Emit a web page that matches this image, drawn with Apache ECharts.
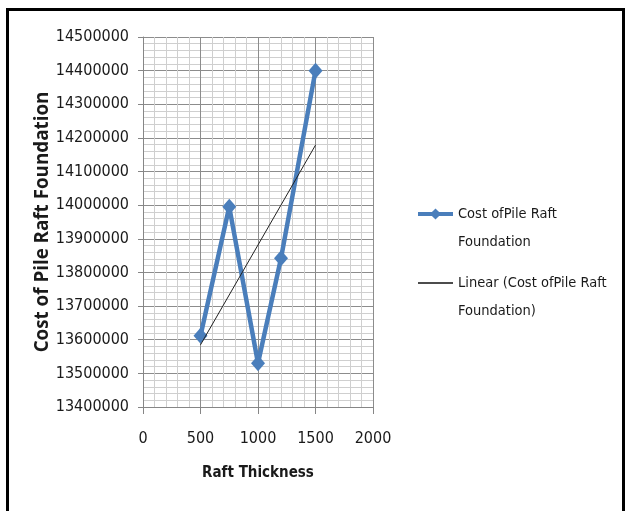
<!DOCTYPE html>
<html>
<head>
<meta charset="utf-8">
<script src="https://cdn.jsdelivr.net/npm/echarts@6/dist/echarts.min.js"></script>
<style>
  html, body { margin: 0; padding: 0; background: #fff; }
  #chart { width: 627px; height: 511px; }
</style>
</head>
<body>
<div id="chart"></div>
<script>
// Raft thickness (mm) and the matching cost of the pile raft foundation
const thickness = [500, 750, 1000, 1200, 1500];
const cost = [13612000, 13995000, 13530000, 13842000, 14400000];

const seriesName = 'Cost ofPile Raft Foundation';
const trendName = 'Linear (Cost ofPile Raft Foundation)';

// Least-squares linear trend over the measured points
function linearFit(xs, ys) {
  const n = xs.length;
  const mx = xs.reduce((a, b) => a + b, 0) / n;
  const my = ys.reduce((a, b) => a + b, 0) / n;
  let sxy = 0, sxx = 0;
  for (let i = 0; i < n; i++) {
    sxy += (xs[i] - mx) * (ys[i] - my);
    sxx += (xs[i] - mx) * (xs[i] - mx);
  }
  const slope = sxy / sxx;
  return x => my + slope * (x - mx);
}
const fit = linearFit(thickness, cost);
const xFirst = thickness[0], xLast = thickness[thickness.length - 1];
const trendPoints = [[xFirst, fit(xFirst)], [xLast, fit(xLast)]];

const narrow = "'DejaVu Sans Condensed', 'Open Sans', sans-serif";
const plain = v => String(v);
const chart = echarts.init(document.getElementById('chart'));

chart.setOption({
  animation: false,
  backgroundColor: '#fff',
  grid: { left: 143, right: 254, top: 37, bottom: 104, containLabel: false },
  xAxis: {
    type: 'value',
    min: 0, max: 2000, interval: 500,
    name: 'Raft Thickness',
    nameLocation: 'middle',
    nameGap: 59,
    nameMoveOverlap: false,
    nameTextStyle: { fontFamily: narrow, fontWeight: 'bold', fontSize: 15, color: '#1a1a1a' },
    axisLine: { show: true, lineStyle: { color: '#868686', width: 1 } },
    axisTick: { show: true, length: 7, lineStyle: { color: '#868686' } },
    axisLabel: { margin: 24, fontFamily: narrow, fontSize: 16, color: '#1a1a1a', formatter: plain },
    splitLine: { show: true, lineStyle: { color: '#8c8c8c', width: 1 } },
    minorTick: { show: false, splitNumber: 5 },
    minorSplitLine: { show: true, lineStyle: { color: '#cfcfcf', width: 1 } }
  },
  yAxis: {
    type: 'value',
    min: 13400000, max: 14500000, interval: 100000,
    name: 'Cost of Pile Raft Foundation',
    nameLocation: 'middle',
    nameGap: 91,
    nameMoveOverlap: false,
    nameTextStyle: { fontFamily: "'Open Sans', sans-serif", fontWeight: 'bold', fontSize: 18.8, color: '#1a1a1a' },
    axisLine: { show: true, lineStyle: { color: '#868686', width: 1 } },
    axisTick: { show: true, length: 5, lineStyle: { color: '#868686' } },
    axisLabel: { margin: 14, fontFamily: narrow, fontSize: 16, color: '#1a1a1a', formatter: plain },
    splitLine: { show: true, lineStyle: { color: '#8c8c8c', width: 1 } },
    minorTick: { show: false, splitNumber: 5 },
    minorSplitLine: { show: true, lineStyle: { color: '#cfcfcf', width: 1 } }
  },
  legend: {
    orient: 'vertical',
    left: 416,
    top: 172,
    padding: 0,
    itemWidth: 35,
    itemHeight: 14,
    itemGap: -15,
    data: [
      { name: seriesName, lineStyle: { width: 4, color: '#4a7ebb' } },
      { name: trendName, itemStyle: { opacity: 0 }, lineStyle: { width: 1.3, color: '#111' } }
    ],
    formatter: function (name) {
      // a blank first line keeps the icon level with the first text line
      return name === seriesName
        ? ' \nCost ofPile Raft\nFoundation'
        : ' \nLinear (Cost ofPile Raft\nFoundation)';
    },
    textStyle: {
      fontFamily: narrow, fontSize: 14.5, color: '#1a1a1a', lineHeight: 28
    }
  },
  graphic: [{
    type: 'rect',
    shape: { x: 7.5, y: 9.5, width: 616, height: 600 },
    style: { fill: 'none', stroke: '#000', lineWidth: 3 },
    silent: true
  }],
  series: [
    {
      name: seriesName,
      type: 'line',
      data: thickness.map((x, i) => [x, cost[i]]),
      symbol: 'diamond',
      symbolSize: [14, 16],
      lineStyle: { color: '#4a7ebb', width: 4.5 },
      itemStyle: { color: '#4a7ebb' },
      z: 3
    },
    {
      name: trendName,
      type: 'line',
      data: trendPoints,
      symbol: 'none',
      lineStyle: { color: '#222', width: 1 },
      itemStyle: { color: '#222' },
      z: 4
    }
  ]
});
</script>
</body>
</html>
